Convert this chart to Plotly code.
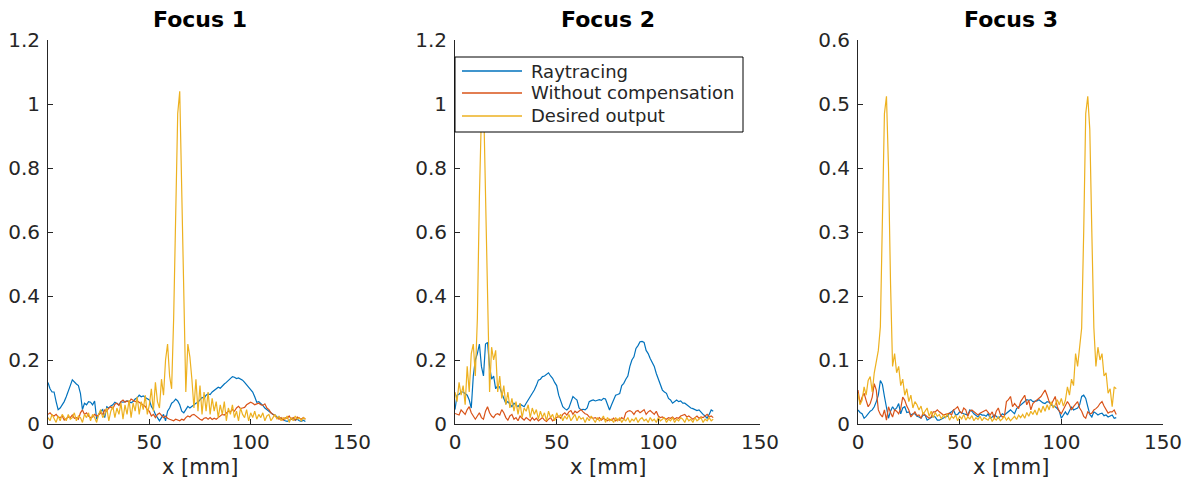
import plotly.graph_objects as go

# ---------------- data ----------------
x_mm = list(range(128))

f1_ray = [0.13, 0.11, 0.10, 0.10, 0.07, 0.045, 0.05, 0.06, 0.07, 0.085,
          0.10, 0.12, 0.138, 0.13, 0.125, 0.12, 0.096, 0.045, 0.065, 0.06,
          0.07, 0.068, 0.06, 0.072, 0.015, 0.03, 0.04, 0.045, 0.02, 0.054,
          0.05, 0.056, 0.06, 0.068, 0.065, 0.06, 0.07, 0.068, 0.07, 0.072,
          0.07, 0.066, 0.07, 0.078, 0.082, 0.09, 0.085, 0.088, 0.083, 0.08,
          0.075, 0.055, 0.045, 0.03, 0.018, 0.01, 0.02, 0.03, 0.01, 0.04,
          0.05, 0.065, 0.07, 0.078, 0.072, 0.06, 0.04, 0.035, 0.045, 0.055,
          0.05, 0.056, 0.06, 0.065, 0.068, 0.075, 0.083, 0.08, 0.09, 0.094,
          0.092, 0.1, 0.105, 0.11, 0.115, 0.112, 0.12, 0.125, 0.13, 0.137,
          0.142, 0.148, 0.146, 0.142, 0.144, 0.14, 0.137, 0.13, 0.122, 0.115,
          0.105, 0.1, 0.085, 0.068, 0.07, 0.065, 0.058, 0.05, 0.045, 0.038,
          0.035, 0.03, 0.028, 0.022, 0.02, 0.018, 0.015, 0.01, 0.008, 0.012,
          0.015, 0.018, 0.012, 0.015, 0.01, 0.008, 0.012, 0.008]

f1_nocomp = [0.03, 0.035, 0.028, 0.025, 0.03, 0.022, 0.02, 0.025, 0.012, 0.018,
             0.022, 0.02, 0.028, 0.018, 0.02, 0.015, 0.035, 0.044, 0.03, 0.035,
             0.025, 0.02, 0.022, 0.03, 0.025, 0.028, 0.035, 0.03, 0.044, 0.04,
             0.05, 0.054, 0.048, 0.062, 0.065, 0.058, 0.07, 0.075, 0.068, 0.072,
             0.068, 0.078, 0.075, 0.07, 0.072, 0.068, 0.065, 0.06, 0.055, 0.044,
             0.04, 0.025, 0.03, 0.02, 0.03, 0.034, 0.025, 0.02, 0.025, 0.018,
             0.015, 0.012, 0.01, 0.015, 0.012, 0.01, 0.015, 0.012, 0.02, 0.025,
             0.022, 0.028, 0.03, 0.025, 0.018, 0.015, 0.012, 0.018, 0.02, 0.015,
             0.02, 0.014, 0.018, 0.015, 0.02, 0.025, 0.03, 0.028, 0.035, 0.04,
             0.038, 0.045, 0.04, 0.05, 0.055, 0.048, 0.05, 0.052, 0.06, 0.065,
             0.068, 0.065, 0.06, 0.063, 0.065, 0.06, 0.058, 0.063, 0.05, 0.045,
             0.035, 0.03, 0.025, 0.02, 0.015, 0.02, 0.012, 0.02, 0.018, 0.025,
             0.015, 0.02, 0.012, 0.022, 0.018, 0.015, 0.02, 0.015]

f1_desired = [0.02, 0.01, 0.03, 0.015, 0.005, 0.025, 0.01, 0.03, 0.02, 0.01,
              0.03, 0.015, 0.02, 0.035, 0.01, 0.025, 0.02, 0.005, 0.03, 0.02,
              0.035, 0.01, 0.03, 0.02, 0.005, 0.03, 0.045, 0.02, 0.03, 0.05,
              0.01, 0.04, 0.055, 0.02, 0.05, 0.03, 0.065, 0.015, 0.06, 0.03,
              0.075, 0.02, 0.065, 0.04, 0.085, 0.03, 0.07, 0.045, 0.09, 0.03,
              0.06, 0.11, 0.04, 0.13, 0.07, 0.05, 0.14, 0.09, 0.2, 0.25,
              0.15, 0.11, 0.33, 0.72, 0.97, 1.04, 0.71, 0.32, 0.1, 0.25,
              0.21, 0.14, 0.05, 0.14, 0.04, 0.12, 0.03, 0.1, 0.04, 0.1,
              0.03, 0.08, 0.04, 0.07, 0.02, 0.06, 0.03, 0.07, 0.01, 0.05,
              0.03, 0.06, 0.02, 0.04, 0.01, 0.05, 0.03, 0.02, 0.045, 0.01,
              0.035, 0.02, 0.04, 0.015, 0.03, 0.02, 0.035, 0.01, 0.025, 0.03,
              0.01, 0.02, 0.03, 0.015, 0.025, 0.01, 0.02, 0.015, 0.025, 0.005,
              0.02, 0.01, 0.025, 0.015, 0.02, 0.01, 0.02, 0.015]

f2_ray = [0.045, 0.09, 0.093, 0.1, 0.1, 0.095, 0.09, 0.075, 0.05, 0.15,
          0.2, 0.22, 0.25, 0.18, 0.15, 0.25, 0.255, 0.18, 0.14, 0.15,
          0.11, 0.12, 0.115, 0.096, 0.08, 0.064, 0.07, 0.06, 0.054, 0.065,
          0.06, 0.054, 0.062, 0.058, 0.054, 0.065, 0.075, 0.086, 0.095, 0.106,
          0.12, 0.137, 0.14, 0.148, 0.15, 0.155, 0.16, 0.15, 0.143, 0.13,
          0.12, 0.09, 0.07, 0.054, 0.048, 0.044, 0.05, 0.065, 0.086, 0.08,
          0.075, 0.05, 0.044, 0.046, 0.044, 0.05, 0.07, 0.073, 0.075, 0.072,
          0.075, 0.076, 0.074, 0.08, 0.078, 0.06, 0.044, 0.06, 0.075, 0.09,
          0.092, 0.095, 0.12, 0.127, 0.14, 0.15, 0.18, 0.2, 0.21, 0.236,
          0.245, 0.257, 0.258, 0.255, 0.23, 0.22, 0.205, 0.19, 0.18, 0.158,
          0.14, 0.127, 0.106, 0.1, 0.096, 0.08, 0.075, 0.065, 0.07, 0.075,
          0.07, 0.072, 0.065, 0.065, 0.06, 0.054, 0.05, 0.048, 0.044, 0.042,
          0.044, 0.035, 0.03, 0.025, 0.018, 0.03, 0.044, 0.04]

f2_nocomp = [0.033, 0.03, 0.028, 0.044, 0.035, 0.03, 0.045, 0.054, 0.035, 0.025,
             0.015, 0.025, 0.035, 0.02, 0.015, 0.04, 0.054, 0.035, 0.025, 0.02,
             0.03, 0.032, 0.028, 0.045, 0.035, 0.02, 0.012, 0.025, 0.03, 0.015,
             0.02, 0.01, 0.025, 0.018, 0.012, 0.02, 0.015, 0.01, 0.02, 0.012,
             0.018, 0.01, 0.015, 0.02, 0.012, 0.008, 0.015, 0.02, 0.01, 0.015,
             0.02, 0.025, 0.018, 0.03, 0.035, 0.028, 0.038, 0.042, 0.03, 0.04,
             0.035, 0.04, 0.045, 0.038, 0.032, 0.03, 0.022, 0.02, 0.018, 0.02,
             0.015, 0.02, 0.012, 0.018, 0.015, 0.01, 0.015, 0.012, 0.018, 0.01,
             0.015, 0.012, 0.02, 0.015, 0.035, 0.04, 0.042, 0.038, 0.03, 0.04,
             0.042, 0.035, 0.04, 0.045, 0.03, 0.038, 0.042, 0.035, 0.03, 0.04,
             0.025, 0.02, 0.022, 0.018, 0.015, 0.02, 0.018, 0.022, 0.015, 0.02,
             0.018, 0.025, 0.028, 0.03, 0.022, 0.025, 0.02, 0.015, 0.02, 0.025,
             0.018, 0.022, 0.02, 0.025, 0.03, 0.022, 0.025, 0.02]

f2_desired = [0.1, 0.07, 0.13, 0.09, 0.12, 0.06, 0.18, 0.1, 0.22, 0.25,
              0.15, 0.33, 0.71, 0.97, 1.03, 0.72, 0.33, 0.1, 0.24, 0.2,
              0.23, 0.1, 0.15, 0.08, 0.12, 0.06, 0.1, 0.05, 0.08, 0.04,
              0.07, 0.03, 0.065, 0.02, 0.05, 0.04, 0.06, 0.02, 0.05, 0.03,
              0.045, 0.015, 0.04, 0.02, 0.035, 0.01, 0.04, 0.02, 0.03, 0.01,
              0.035, 0.02, 0.03, 0.01, 0.025, 0.015, 0.03, 0.01, 0.02, 0.03,
              0.01, 0.025, 0.015, 0.02, 0.005, 0.02, 0.01, 0.025, 0.015, 0.005,
              0.02, 0.01, 0.015, 0.025, 0.005, 0.02, 0.01, 0.015, 0.005, 0.02,
              0.01, 0.02, 0.005, 0.015, 0.01, 0.02, 0.005, 0.015, 0.01, 0.02,
              0.005, 0.015, 0.02, 0.01, 0.015, 0.005, 0.02, 0.01, 0.015, 0.005,
              0.02, 0.01, 0.015, 0.02, 0.005, 0.015, 0.01, 0.02, 0.005, 0.015,
              0.01, 0.02, 0.015, 0.005, 0.02, 0.01, 0.015, 0.005, 0.02, 0.01,
              0.015, 0.02, 0.005, 0.015, 0.01, 0.02, 0.01, 0.015]

f3_ray = [0.022, 0.018, 0.016, 0.009, 0.012, 0.016, 0.02, 0.022, 0.027, 0.035,
          0.045, 0.068, 0.062, 0.043, 0.027, 0.009, 0.02, 0.027, 0.022, 0.025,
          0.032, 0.016, 0.025, 0.027, 0.018, 0.019, 0.014, 0.016, 0.016, 0.012,
          0.011, 0.009, 0.014, 0.014, 0.006, 0.008, 0.009, 0.012, 0.011, 0.006,
          0.006, 0.008, 0.009, 0.011, 0.012, 0.017, 0.019, 0.022, 0.014, 0.015,
          0.019, 0.017, 0.016, 0.015, 0.014, 0.022, 0.02, 0.016, 0.013, 0.011,
          0.016, 0.014, 0.014, 0.012, 0.016, 0.009, 0.011, 0.014, 0.012, 0.009,
          0.012, 0.016, 0.014, 0.017, 0.02, 0.022, 0.019, 0.016, 0.024, 0.027,
          0.03, 0.033, 0.036, 0.038, 0.037, 0.038, 0.035, 0.035, 0.036, 0.038,
          0.035, 0.033, 0.032, 0.035, 0.034, 0.03, 0.028, 0.027, 0.024, 0.02,
          0.009, 0.015, 0.019, 0.014, 0.022, 0.027, 0.022, 0.024, 0.025, 0.03,
          0.043, 0.045, 0.04, 0.027, 0.015, 0.011, 0.019, 0.017, 0.014, 0.016,
          0.017, 0.013, 0.014, 0.011, 0.013, 0.014, 0.009, 0.01]

f3_nocomp = [0.053, 0.032, 0.042, 0.048, 0.037, 0.027, 0.032, 0.042, 0.063, 0.053,
             0.022, 0.015, 0.011, 0.022, 0.006, 0.027, 0.018, 0.011, 0.022, 0.02,
             0.016, 0.024, 0.042, 0.037, 0.028, 0.022, 0.011, 0.016, 0.019, 0.013,
             0.014, 0.009, 0.017, 0.014, 0.012, 0.009, 0.011, 0.019, 0.019, 0.022,
             0.019, 0.016, 0.014, 0.015, 0.016, 0.017, 0.014, 0.022, 0.024, 0.027,
             0.02, 0.017, 0.025, 0.022, 0.012, 0.02, 0.022, 0.019, 0.016, 0.014,
             0.017, 0.019, 0.02, 0.022, 0.018, 0.014, 0.019, 0.009, 0.02, 0.025,
             0.015, 0.011, 0.012, 0.035, 0.038, 0.043, 0.027, 0.032, 0.028, 0.024,
             0.035, 0.04, 0.045, 0.03, 0.037, 0.022, 0.032, 0.035, 0.038, 0.04,
             0.043, 0.048, 0.053, 0.045, 0.035, 0.03, 0.038, 0.043, 0.027, 0.02,
             0.016, 0.022, 0.027, 0.035, 0.03, 0.022, 0.027, 0.032, 0.035, 0.025,
             0.02, 0.012, 0.009, 0.019, 0.016, 0.017, 0.022, 0.024, 0.027, 0.032,
             0.035, 0.028, 0.022, 0.017, 0.019, 0.019, 0.022, 0.015]

f3_desired = [0.048, 0.03, 0.037, 0.058, 0.045, 0.068, 0.074, 0.05, 0.08, 0.095,
              0.115, 0.152, 0.3, 0.485, 0.512, 0.4, 0.22, 0.09, 0.11, 0.08,
              0.09, 0.06, 0.07, 0.045, 0.055, 0.035, 0.045, 0.025, 0.035, 0.03,
              0.022, 0.028, 0.015, 0.02, 0.025, 0.012, 0.02, 0.01, 0.018, 0.012,
              0.015, 0.008, 0.014, 0.01, 0.016, 0.006, 0.012, 0.009, 0.014, 0.005,
              0.012, 0.008, 0.015, 0.006, 0.011, 0.008, 0.013, 0.005, 0.01, 0.007,
              0.012, 0.005, 0.01, 0.008, 0.006, 0.012, 0.004, 0.009, 0.006, 0.011,
              0.005, 0.008, 0.012, 0.006, 0.01, 0.005, 0.009, 0.012, 0.007, 0.014,
              0.01, 0.015, 0.009, 0.018, 0.012, 0.02, 0.015, 0.022, 0.014, 0.025,
              0.018, 0.028, 0.02, 0.03, 0.022, 0.035, 0.025, 0.03, 0.038, 0.03,
              0.04, 0.028, 0.037, 0.058, 0.045, 0.07, 0.06, 0.11, 0.09, 0.12,
              0.15, 0.3, 0.485, 0.512, 0.46, 0.3, 0.15, 0.09, 0.12, 0.1,
              0.11, 0.075, 0.08, 0.048, 0.055, 0.027, 0.058, 0.055]

panel_titles = ["Focus 1", "Focus 2", "Focus 3"]
series_names = ["Raytracing", "Without compensation", "Desired output"]
series_colors = ["#0072BD", "#D95319", "#EDB120"]
x_ticks = [0, 50, 100, 150]
y_ticks_12 = [0, 0.2, 0.4, 0.6, 0.8, 1.0, 1.2]
y_ticks_06 = [0, 0.1, 0.2, 0.3, 0.4, 0.5, 0.6]
x_label = "x [mm]"

panels = [
    (f1_ray, f1_nocomp, f1_desired),
    (f2_ray, f2_nocomp, f2_desired),
    (f3_ray, f3_nocomp, f3_desired),
]

# ---------------- layout geometry ----------------
W, H = 1186, 484
x_px = [(48, 352), (455, 760), (858, 1163)]
y_top, y_bot = 40, 424
ydom = [1 - y_bot / H, 1 - y_top / H]


def px(xp):
    return xp / W


def py(yp):
    return 1 - yp / H


fig = go.Figure()
TXT = "#262626"
FONT = "DejaVu Sans"

for i, series in enumerate(panels):
    xa = "x" if i == 0 else f"x{i+1}"
    ya = "y" if i == 0 else f"y{i+1}"
    for j, vals in enumerate(series):
        fig.add_trace(go.Scatter(
            x=x_mm, y=vals, mode="lines", name=series_names[j],
            line=dict(color=series_colors[j], width=1.2),
            xaxis=xa, yaxis=ya, showlegend=False,
        ))
    xd = [px(x_px[i][0]), px(x_px[i][1])]
    yticks = y_ticks_06 if i == 2 else y_ticks_12
    axkey = "" if i == 0 else str(i + 1)
    fig.layout["xaxis" + axkey] = dict(
        domain=xd, range=[0, 150], tickvals=x_ticks, anchor=ya,
        showline=True, linecolor=TXT, linewidth=1, ticks="inside", ticklen=5,
        tickcolor=TXT, showgrid=False, zeroline=False, automargin=False,
        tickfont=dict(family=FONT, size=20, color=TXT),
    )
    fig.layout["yaxis" + axkey] = dict(
        domain=ydom, range=[0, yticks[-1]], tickvals=yticks, anchor=xa,
        ticktext=[f"{v:g}" for v in yticks],
        showline=True, linecolor=TXT, linewidth=1, ticks="inside", ticklen=5,
        tickcolor=TXT, showgrid=False, zeroline=False, automargin=False,
        ticklabelstandoff=3,
        tickfont=dict(family=FONT, size=20, color=TXT),
    )
    cx = (xd[0] + xd[1]) / 2
    fig.add_annotation(text="<b>" + panel_titles[i] + "</b>", x=cx, y=py(20),
                       xref="paper", yref="paper", showarrow=False,
                       xanchor="center", yanchor="middle",
                       font=dict(family=FONT, size=22, color="black"))
    fig.add_annotation(text=x_label, x=cx, y=py(467),
                       xref="paper", yref="paper", showarrow=False,
                       xanchor="center", yanchor="middle",
                       font=dict(family=FONT, size=21, color=TXT))

# ---------------- legend (MATLAB-style box inside Focus 2) ----------------
leg_box = (455, 57, 743, 132)
leg_rows = [71, 93, 116]
fig.add_shape(type="rect", xref="paper", yref="paper",
              x0=px(leg_box[0]), x1=px(leg_box[2]),
              y0=py(leg_box[3]), y1=py(leg_box[1]),
              line=dict(color="black", width=1), fillcolor="white", layer="above")
for name, color, ry in zip(series_names, series_colors, leg_rows):
    fig.add_shape(type="line", xref="paper", yref="paper",
                  x0=px(462), x1=px(522), y0=py(ry), y1=py(ry),
                  line=dict(color=color, width=1.5), layer="above")
    fig.add_annotation(text=name, x=px(529), y=py(ry), xref="paper", yref="paper",
                       showarrow=False, xanchor="left", yanchor="middle",
                       font=dict(family=FONT, size=18, color=TXT))

fig.update_layout(
    width=W, height=H,
    margin=dict(l=0, r=0, t=0, b=0, autoexpand=False),
    paper_bgcolor="white", plot_bgcolor="white",
    font=dict(family=FONT, color=TXT),
    showlegend=False,
)

fig.write_html("out.html")
